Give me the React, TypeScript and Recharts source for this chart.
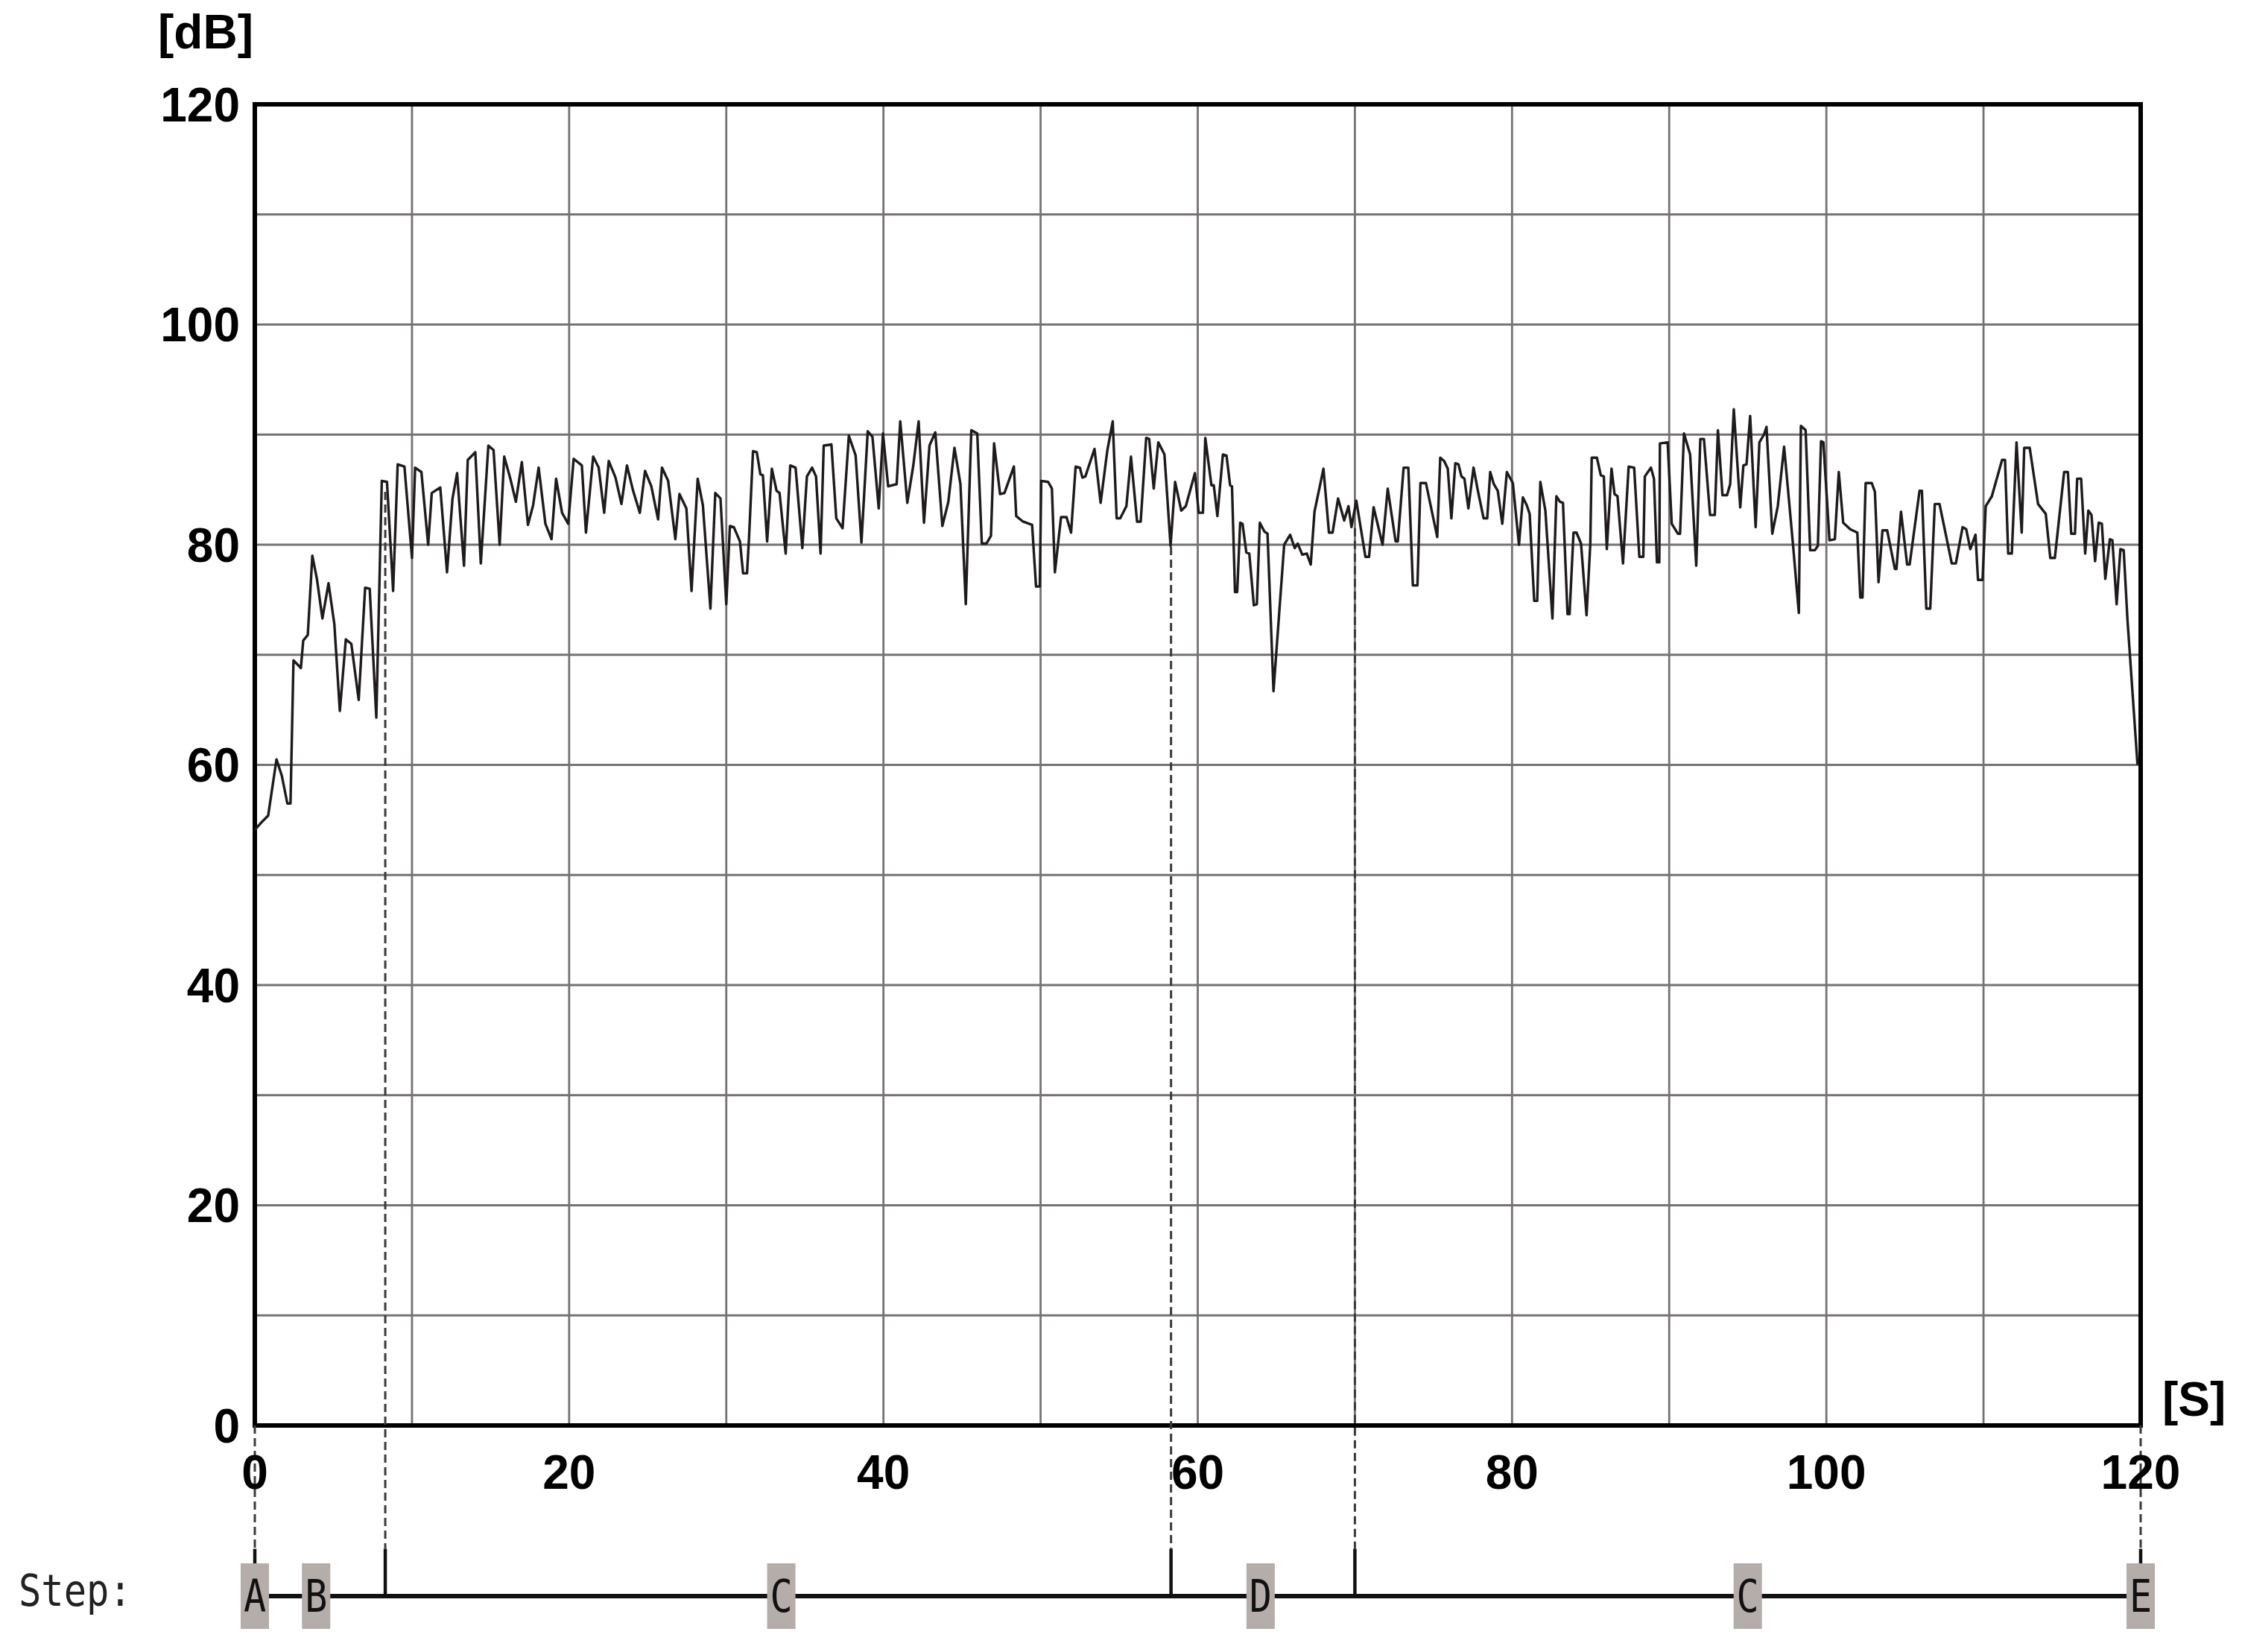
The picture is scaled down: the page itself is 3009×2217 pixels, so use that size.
import {
  ComposedChart,
  Line,
  XAxis,
  YAxis,
  CartesianGrid,
  ReferenceLine,
  ReferenceDot,
  ReferenceArea,
} from "recharts";

// sound level trace
const timeSec = [
  0, 0.37, 0.85, 1.38, 1.72, 2.07, 2.27, 2.46, 2.93, 3.08, 3.37, 3.66, 3.95, 4.3, 4.69, 5.06, 5.41, 5.79, 6.14, 6.61,
  7.02, 7.31, 7.73, 8.08, 8.41, 8.8, 9.09, 9.52, 10.0, 10.2, 10.6, 11.03, 11.26, 11.8, 12.23, 12.58, 12.87, 13.31, 13.55, 14.03,
  14.38, 14.86, 15.19, 15.58, 15.87, 16.26, 16.61, 16.99, 17.38, 17.71, 18.06, 18.49, 18.88, 19.17, 19.55, 19.94, 20.29, 20.81, 21.07, 21.53,
  21.88, 22.23, 22.52, 22.95, 23.33, 23.68, 24.07, 24.5, 24.83, 25.23, 25.66, 25.91, 26.3, 26.76, 27.02, 27.46, 27.79, 28.18, 28.51, 28.99,
  29.3, 29.63, 30.0, 30.23, 30.48, 30.87, 31.07, 31.32, 31.45, 31.7, 31.94, 32.17, 32.33, 32.6, 32.9, 33.2, 33.39, 33.78, 34.07, 34.41,
  34.84, 35.13, 35.46, 35.71, 36.0, 36.2, 36.69, 37.0, 37.4, 37.8, 38.23, 38.6, 39.0, 39.3, 39.7, 39.97, 40.3, 40.84, 41.07, 41.52,
  41.9, 42.24, 42.58, 42.93, 43.3, 43.75, 44.13, 44.52, 44.9, 45.24, 45.59, 45.97, 46.26, 46.55, 46.84, 47.04, 47.42, 47.7, 48.3, 48.45,
  48.88, 49.46, 49.71, 49.95, 50.04, 50.48, 50.72, 50.91, 51.3, 51.65, 51.94, 52.23, 52.5, 52.66, 52.85, 53.43, 53.82, 54.24, 54.59, 54.84,
  55.07, 55.46, 55.75, 56.14, 56.37, 56.72, 56.91, 57.2, 57.49, 57.88, 58.27, 58.56, 58.95, 59.24, 59.82, 60.06, 60.33, 60.48, 60.87, 61.02,
  61.25, 61.6, 61.83, 62.06, 62.18, 62.37, 62.51, 62.7, 62.85, 63.09, 63.28, 63.57, 63.76, 63.95, 64.24, 64.44, 64.82, 65.5, 65.88, 66.17,
  66.36, 66.65, 66.94, 67.19, 67.43, 68.0, 68.35, 68.58, 68.93, 69.32, 69.59, 69.78, 70.09, 70.67, 70.9, 71.19, 71.76, 72.09, 72.59, 72.73,
  73.1, 73.4, 73.69, 73.98, 74.17, 74.52, 75.24, 75.43, 75.68, 75.91, 76.14, 76.39, 76.59, 76.78, 76.97, 77.22, 77.55, 77.84, 78.19, 78.42,
  78.61, 78.84, 79.09, 79.38, 79.67, 80.05, 80.44, 80.69, 80.93, 81.12, 81.41, 81.6, 81.8, 82.12, 82.57, 82.82, 83.05, 83.24, 83.53, 83.66,
  83.91, 84.1, 84.39, 84.74, 84.98, 85.07, 85.4, 85.65, 85.84, 86.03, 86.33, 86.52, 86.71, 87.06, 87.42, 87.77, 88.1, 88.35, 88.45, 88.84,
  89.03, 89.22, 89.37, 89.41, 89.9, 90.16, 90.55, 90.69, 90.94, 91.33, 91.72, 91.98, 92.21, 92.6, 92.9, 93.1, 93.39, 93.68, 93.88, 94.11,
  94.52, 94.72, 94.92, 95.15, 95.5, 95.74, 96.03, 96.19, 96.56, 96.91, 97.31, 97.54, 97.89, 98.25, 98.38, 98.68, 98.97, 99.27, 99.46, 99.66,
  99.81, 100.2, 100.54, 100.79, 101.07, 101.52, 101.97, 102.16, 102.3, 102.5, 102.89, 103.09, 103.32, 103.57, 103.87, 104.36, 104.46, 104.75, 105.14, 105.3,
  105.93, 106.08, 106.36, 106.61, 106.9, 107.2, 107.98, 108.24, 108.67, 108.9, 109.16, 109.49, 109.65, 109.94, 110.14, 110.53, 111.18, 111.37, 111.57, 111.8,
  112.1, 112.43, 112.59, 112.94, 113.47, 113.96, 114.25, 114.54, 115.13, 115.37, 115.58, 115.82, 115.96, 116.21, 116.47, 116.67, 116.87, 117.1, 117.33, 117.53,
  117.75, 118.04, 118.2, 118.47, 118.71, 118.92, 119.16, 119.8,
];

const levelDb = [
  54.1, 54.7, 55.4, 60.5, 59.0, 56.5, 56.5, 69.5, 68.8, 71.3, 71.8, 79.0, 76.9, 73.3, 76.5, 72.8, 64.9, 71.4, 71.0, 65.9,
  76.1, 76.0, 64.3, 85.8, 85.7, 75.8, 87.3, 87.1, 78.8, 87.0, 86.6, 80.0, 84.7, 85.2, 77.5, 84.2, 86.5, 78.1, 87.7, 88.4,
  78.3, 89.0, 88.6, 80.0, 88.0, 86.0, 83.9, 87.5, 81.8, 83.6, 87.0, 81.9, 80.5, 86.0, 82.9, 81.9, 87.8, 87.2, 81.1, 88.0,
  87.0, 82.9, 87.6, 86.1, 83.7, 87.2, 84.9, 82.9, 86.7, 85.3, 82.3, 87.0, 85.8, 80.5, 84.6, 83.3, 75.8, 86.0, 83.6, 74.2,
  84.7, 84.2, 74.6, 81.7, 81.6, 80.3, 77.4, 77.4, 80.7, 88.5, 88.4, 86.4, 86.3, 80.3, 86.9, 84.9, 84.7, 79.2, 87.2, 87.0,
  79.7, 86.2, 87.0, 86.2, 79.2, 89.0, 89.1, 82.4, 81.5, 89.9, 88.1, 80.2, 90.3, 89.8, 83.3, 90.1, 85.3, 85.5, 91.2, 83.8,
  87.2, 91.2, 82.0, 89.0, 90.2, 81.7, 83.9, 88.8, 85.5, 74.6, 90.4, 90.1, 80.1, 80.1, 80.8, 89.2, 84.6, 84.7, 87.1, 82.6,
  82.1, 81.8, 76.2, 76.2, 85.8, 85.7, 85.1, 77.5, 82.5, 82.5, 81.1, 87.1, 87.0, 86.1, 86.2, 88.7, 83.8, 88.5, 91.2, 82.4,
  82.4, 83.5, 88.0, 82.1, 82.1, 89.7, 89.6, 85.1, 89.3, 88.2, 79.9, 85.7, 83.1, 83.5, 86.5, 82.9, 82.9, 89.7, 85.4, 85.4,
  82.6, 88.2, 88.1, 85.4, 85.3, 75.7, 75.7, 82.0, 81.9, 79.3, 79.2, 74.5, 74.6, 82.0, 81.2, 81.0, 66.7, 80.0, 80.9, 79.7,
  80.1, 79.1, 79.2, 78.2, 83.0, 86.9, 81.1, 81.1, 84.2, 82.2, 83.5, 81.6, 84.0, 78.9, 78.9, 83.4, 80.0, 85.1, 80.3, 80.3,
  87.0, 87.0, 76.3, 76.3, 85.6, 85.6, 80.7, 87.9, 87.6, 86.9, 82.4, 87.4, 87.3, 86.2, 86.0, 83.3, 87.0, 84.8, 82.4, 82.4,
  86.6, 85.5, 84.9, 81.9, 86.6, 85.6, 80.0, 84.3, 83.6, 82.8, 74.9, 74.9, 85.7, 83.1, 73.3, 84.4, 83.9, 83.8, 73.7, 73.7,
  81.1, 81.1, 80.1, 73.6, 80.1, 87.9, 87.9, 86.3, 86.2, 79.6, 86.9, 84.6, 84.4, 78.3, 87.1, 87.0, 78.9, 78.9, 86.2, 87.0,
  86.0, 78.4, 78.4, 89.2, 89.3, 81.9, 81.0, 81.0, 90.1, 88.2, 78.1, 89.6, 89.6, 82.7, 82.7, 90.4, 84.5, 84.5, 85.5, 92.3,
  83.4, 87.2, 87.3, 91.7, 81.6, 89.3, 90.0, 90.7, 81.0, 83.5, 88.9, 85.3, 79.8, 73.8, 90.8, 90.4, 79.5, 79.5, 79.9, 89.4,
  89.3, 80.4, 80.5, 86.6, 82.0, 81.4, 81.1, 75.2, 75.2, 85.6, 85.6, 84.8, 76.6, 81.3, 81.3, 77.8, 77.8, 83.0, 78.2, 78.2,
  84.9, 84.9, 74.2, 74.2, 83.7, 83.7, 78.3, 78.3, 81.6, 81.4, 79.6, 80.9, 76.8, 76.8, 83.5, 84.4, 87.7, 87.7, 79.2, 79.2,
  89.3, 81.1, 88.8, 88.8, 83.7, 82.8, 78.8, 78.8, 86.6, 86.6, 81.0, 81.0, 86.0, 86.0, 79.2, 83.1, 82.7, 78.5, 82.0, 81.9,
  76.9, 80.5, 80.4, 74.6, 79.6, 79.5, 73.2, 60.0,
];

const xTicks = [0, 10, 20, 30, 40, 50, 60, 70, 80, 90, 100, 110, 120];
const yTicks = [0, 10, 20, 30, 40, 50, 60, 70, 80, 90, 100, 110, 120];

// test steps along the bottom bar
const stepNames = ["A", "B", "C", "D", "C", "E"];
const stepTimes = [0, 3.9, 33.5, 64, 95, 120];

// step boundaries, and the level where each dashed guide starts
const markerTimes = [0, 8.3, 58.3, 70, 120];
const markerTops = [0, 84.8, 79.8, 81.5, 0];

const data = timeSec.map((t, i) => ({ t, db: levelDb[i] }));

// rows below the axis, in axis units
const TICK_TOP = -11.2;
const STEP_ROW = -15.5;

const labelFont = "'Liberation Sans', Arial, sans-serif";
const monoFont = "'DejaVu Sans Mono', monospace";

const tickStyle = { fontSize: 64, fontWeight: 700, fill: "#000", fontFamily: labelFont };

const StepBox = ({ cx, cy, name }: any) => (
  <g>
    <rect x={cx - 19} y={cy - 44} width={38} height={88} fill="#b4adaa" />
    <text
      transform={`translate(${cx},${cy + 21}) scale(0.88,1.05)`}
      textAnchor="middle"
      fontFamily={monoFont}
      fontSize={57}
      fill="#111"
    >
      {name}
    </text>
  </g>
);

export default function App() {
  return (
    <div style={{ position: "absolute", left: 0, top: 0, width: 3009, height: 2217, background: "#fff" }}>
      <ComposedChart
        width={3009}
        height={2217}
        data={data}
        margin={{ top: 140, right: 136, bottom: 0, left: 0 }}
      >
        <CartesianGrid stroke="#777272" strokeWidth={2.8} />
        <XAxis
          type="number"
          dataKey="t"
          domain={[0, 120]}
          ticks={xTicks}
          interval={0}
          height={304}
          axisLine={false}
          tickLine={false}
          tickSize={0}
          tickMargin={40}
          tick={tickStyle}
          tickFormatter={(v) => (v % 20 === 0 ? String(v) : "")}
        />
        <YAxis
          type="number"
          domain={[0, 120]}
          ticks={yTicks}
          interval={0}
          width={342}
          axisLine={false}
          tickLine={false}
          tickSize={0}
          tickMargin={20}
          tick={tickStyle}
          tickFormatter={(v) => (v % 20 === 0 ? String(v) : "")}
        />
        <Line
          type="linear"
          dataKey="db"
          stroke="#1f1b1b"
          strokeWidth={3.4}
          strokeLinejoin="round"
          dot={false}
          isAnimationActive={false}
        />
        <ReferenceArea
          x1={0}
          x2={120}
          y1={0}
          y2={120}
          fill="none"
          fillOpacity={0}
          stroke="#000"
          strokeWidth={6}
          ifOverflow="visible"
        />
        {markerTimes.map((t, i) => (
          <ReferenceLine
            key={`dash-${i}`}
            segment={[
              { x: t, y: markerTops[i] },
              { x: t, y: TICK_TOP },
            ]}
            stroke="#3a3a3a"
            strokeWidth={3}
            strokeDasharray="11 6"
            ifOverflow="visible"
          />
        ))}
        {markerTimes.map((t, i) => (
          <ReferenceLine
            key={`tick-${i}`}
            segment={[
              { x: t, y: TICK_TOP },
              { x: t, y: STEP_ROW },
            ]}
            stroke="#111"
            strokeWidth={4.5}
            ifOverflow="visible"
          />
        ))}
        <ReferenceLine
          segment={[
            { x: 0, y: STEP_ROW },
            { x: 120, y: STEP_ROW },
          ]}
          stroke="#111"
          strokeWidth={6}
          ifOverflow="visible"
        />
        {stepTimes.map((t, i) => (
          <ReferenceDot
            key={`step-${i}`}
            x={t}
            y={STEP_ROW}
            r={1}
            ifOverflow="visible"
            shape={(p: any) => <StepBox cx={p.cx} cy={p.cy} name={stepNames[i]} />}
          />
        ))}
      </ComposedChart>
      <svg
        width={3009}
        height={2217}
        style={{ position: "absolute", left: 0, top: 0, pointerEvents: "none" }}
      >
        <text x={212} y={65} fontFamily={labelFont} fontWeight={700} fontSize={64} fill="#000">
          [dB]
        </text>
        <text x={2902} y={1900} fontFamily={labelFont} fontWeight={700} fontSize={64} fill="#000">
          [S]
        </text>
        <text
          transform="translate(25,2155) scale(0.9,1.05)"
          fontFamily={monoFont}
          fontSize={56}
          fill="#222"
        >
          Step:
        </text>
      </svg>
    </div>
  );
}
